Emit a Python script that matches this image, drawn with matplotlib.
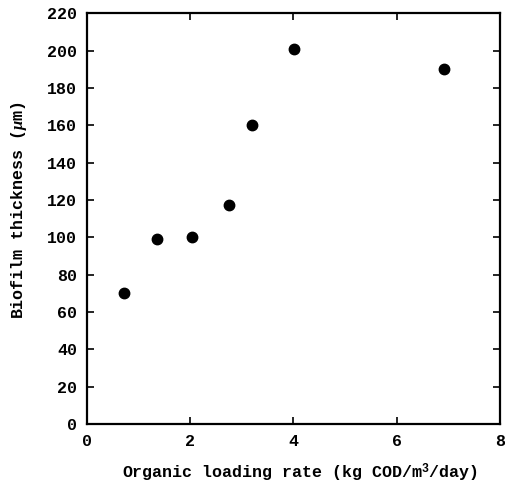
import matplotlib
matplotlib.use("Agg")
import matplotlib.pyplot as plt

loading_rate = [0.71, 1.35, 2.04, 2.75, 3.19, 4.02, 6.92]
thickness = [70, 99, 100, 117, 160, 201, 190]
x_ticks = [0, 2, 4, 6, 8]
y_ticks = [0, 20, 40, 60, 80, 100, 120, 140, 160, 180, 200, 220]

plt.rcParams['font.family'] = ['Liberation Mono', 'DejaVu Sans Mono']
plt.rcParams['font.weight'] = 'bold'
plt.rcParams['mathtext.fontset'] = 'custom'
plt.rcParams['mathtext.rm'] = 'Liberation Mono:bold'
plt.rcParams['mathtext.it'] = 'Liberation Serif:italic'

fig = plt.figure(figsize=(5.05, 4.9), dpi=100)
ax = fig.add_axes([0.172, 0.135, 0.818, 0.838])
ax.plot(loading_rate, thickness, 'o', color='black', markersize=7.5)
ax.set_xlim(0, 8)
ax.set_ylim(0, 220)
ax.set_xticks(x_ticks)
ax.set_yticks(y_ticks)
ax.tick_params(direction='in', top=True, right=True, length=5, width=1.2,
               labelsize=12, pad=7, colors='black')
for s in ax.spines.values():
    s.set_linewidth(1.6)
ax.set_xlabel(r'Organic loading rate (kg COD/m$^3$/day)', fontsize=12,
              fontweight='bold')
ax.set_ylabel(r'Biofilm thickness ($\mu$m)', fontsize=12,
              fontweight='bold')
ax.xaxis.set_label_coords(0.516, -0.09)
ax.yaxis.set_label_coords(-0.14, 0.52)
fig.savefig('out.png', dpi=100)
